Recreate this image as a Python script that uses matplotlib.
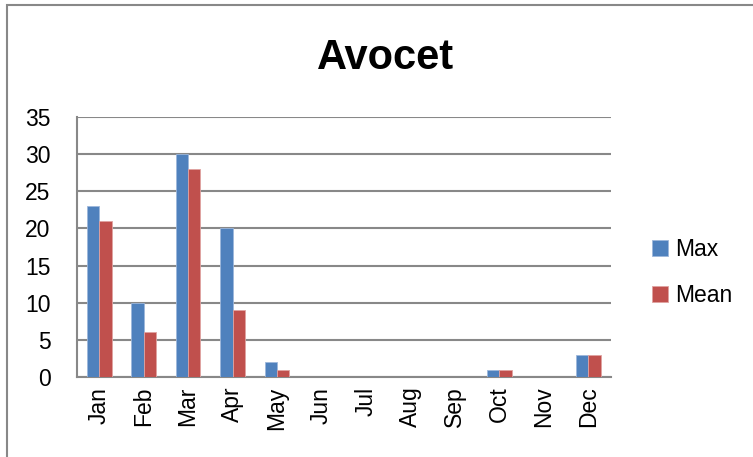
import matplotlib
matplotlib.use("Agg")
from matplotlib import pyplot as plt
from matplotlib.patches import Rectangle
import numpy as np

months = ["Jan", "Feb", "Mar", "Apr", "May", "Jun",
          "Jul", "Aug", "Sep", "Oct", "Nov", "Dec"]
max_vals = [23, 10, 30, 20, 2, 0, 0, 0, 0, 1, 0, 3]
mean_vals = [21, 6, 28, 9, 1, 0, 0, 0, 0, 1, 0, 3]
yticks = [0, 5, 10, 15, 20, 25, 30, 35]

plt.rcParams['font.family'] = ['Liberation Sans', 'DejaVu Sans']

fig = plt.figure(figsize=(7.53, 4.57), dpi=100)
ax = fig.add_axes([0.102, 0.175, 0.709, 0.569])

x = np.arange(len(months))
w = 0.28
ax.bar(x - w / 2, max_vals, w, color="#4F81BD", edgecolor="#9DB7DB", linewidth=0.6, label="Max", zorder=3)
ax.bar(x + w / 2, mean_vals, w, color="#C0504D", edgecolor="#E0A3A1", linewidth=0.6, label="Mean", zorder=3)

ax.set_xlim(-0.5, len(months) - 0.5)
ax.set_ylim(0, 35)
ax.set_yticks(yticks)
ax.set_xticks(x)
ax.set_xticklabels(months, rotation=90)
ax.tick_params(axis='both', length=0, labelsize=16.5)
ax.tick_params(axis='y', pad=19)
ax.tick_params(axis='x', pad=7)
ax.yaxis.grid(True, color="#888888", linewidth=1.5, zorder=0)
ax.set_axisbelow(True)
for s in ["top", "right"]:
    ax.spines[s].set_visible(False)
for s in ["left", "bottom"]:
    ax.spines[s].set_color("#888888")
    ax.spines[s].set_linewidth(1.5)

fig.text(0.512, 0.873, "Avocet", ha="center", va="center", fontsize=30, fontweight="bold")

fig.legend(loc="center left", bbox_to_anchor=(0.866, 0.403), frameon=False,
           fontsize=16.5, handlelength=0.7, handleheight=0.7,
           handletextpad=0.3, labelspacing=1.0, borderpad=0, borderaxespad=0)

# outer chart border
fig.patches.append(Rectangle((7 / 753, -0.1), 1.2, 1.1 - 5 / 457,
                             transform=fig.transFigure, fill=False,
                             edgecolor="#888888", linewidth=1.5))

fig.savefig("out.png", dpi=100)
